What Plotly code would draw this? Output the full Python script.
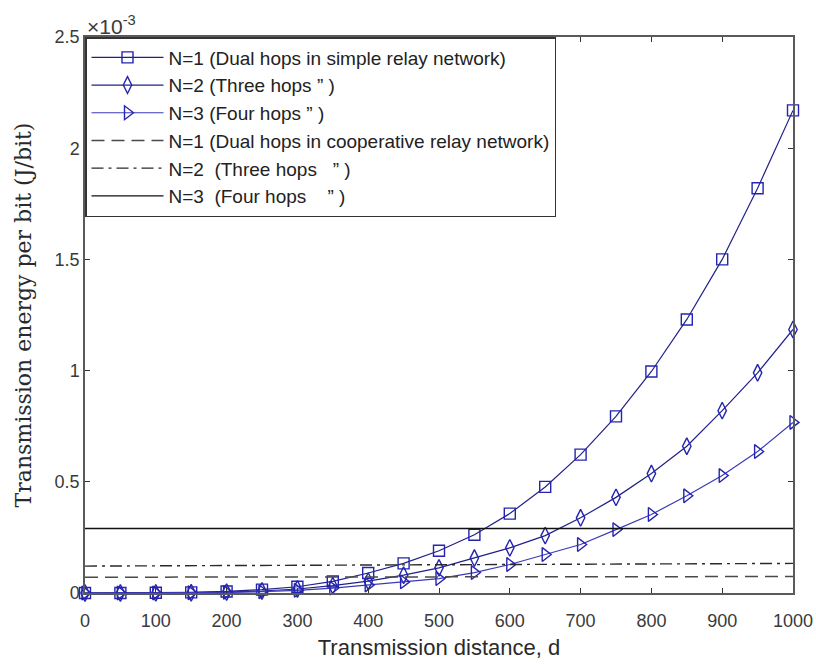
import plotly.graph_objects as go

# ---------------- data (energy in units of 1e-3 J/bit) ----------------
distance = [0, 50, 100, 150, 200, 250, 300, 350, 400, 450, 500,
            550, 600, 650, 700, 750, 800, 850, 900, 950, 1000]

simple_n1 = [0, 0.0001, 0.001, 0.003, 0.007, 0.015, 0.028, 0.052, 0.090, 0.133, 0.190,
             0.262, 0.357, 0.477, 0.622, 0.794, 0.996, 1.230, 1.500, 1.820, 2.170]
simple_n2 = [0, 0.0001, 0.0005, 0.0015, 0.004, 0.009, 0.018, 0.033, 0.053, 0.080, 0.113,
             0.157, 0.203, 0.258, 0.338, 0.430, 0.537, 0.660, 0.820, 0.990, 1.185]
simple_n3 = [0, 0.0001, 0.0004, 0.001, 0.003, 0.006, 0.012, 0.022, 0.036, 0.050, 0.065,
             0.092, 0.128, 0.173, 0.218, 0.285, 0.353, 0.437, 0.528, 0.636, 0.767]

coop_distance = [0, 1000]
coop_n1 = [0.071, 0.074]
coop_n2 = [0.121, 0.133]
coop_n3 = [0.290, 0.290]

x_ticks = [0, 100, 200, 300, 400, 500, 600, 700, 800, 900, 1000]
y_ticks = [0, 0.5, 1, 1.5, 2, 2.5]
y_tick_text = ["0", "0.5", "1", "1.5", "2", "2.5"]

NB = "\u00a0"
names = [
    "N=1 (Dual hops in simple relay network)",
    "N=2 (Three hops \u201d )",
    "N=3 (Four hops \u201d" + NB + ")",
    "N=1 (Dual hops in cooperative relay network)",
    "N=2" + NB + NB + "(Three hops" + NB * 3 + "\u201d" + NB + ")",
    "N=3" + NB + NB + "(Four hops" + NB * 4 + "\u201d" + NB + ")",
]

fig = go.Figure()

line_navy = "#20208a"
line_blue = "#3a3ab8"
marker_col = "#2424b0"

fig.add_trace(go.Scatter(
    x=distance, y=simple_n1, name=names[0], legendgroup="a",
    mode="lines+markers", cliponaxis=False,
    line=dict(color=line_navy, width=1.2),
    marker=dict(symbol="square-open", size=11, color=marker_col, line=dict(width=1.4, color=marker_col)),
))
fig.add_trace(go.Scatter(
    x=distance, y=simple_n2, name=names[1], legendgroup="b",
    mode="lines+markers", cliponaxis=False,
    line=dict(color=line_navy, width=1.2),
    marker=dict(symbol="diamond-tall-open", size=12, color=marker_col, line=dict(width=1.4, color=marker_col)),
))
fig.add_trace(go.Scatter(
    x=distance, y=simple_n3, name=names[2], legendgroup="c",
    mode="lines+markers", cliponaxis=False,
    line=dict(color=line_blue, width=1.2),
    marker=dict(symbol="triangle-right-open", size=12, color=marker_col, line=dict(width=1.4, color=marker_col)),
))
fig.add_trace(go.Scatter(
    x=coop_distance, y=coop_n1, name=names[3], legendgroup="d",
    mode="lines", line=dict(color="#4a4a4a", width=1.5, dash="13px,7px"),
))
fig.add_trace(go.Scatter(
    x=coop_distance, y=coop_n2, name=names[4], legendgroup="e",
    mode="lines", line=dict(color="#2a2a2a", width=1.4, dash="12px,5px,3px,5px"),
))
fig.add_trace(go.Scatter(
    x=coop_distance, y=coop_n3, name=names[5], legendgroup="f",
    mode="lines", line=dict(color="#111111", width=1.3),
))

axis_common = dict(
    showline=True, linecolor="#5a5a5a", linewidth=1.5, mirror="ticks",
    ticks="inside", ticklen=5, tickcolor="#333333", tickwidth=1,
    showgrid=False, zeroline=False, automargin=False,
    tickfont=dict(family="Liberation Sans, Arial, sans-serif", size=18, color="#3a3a3a"),
)

fig.update_layout(
    width=816, height=665,
    margin=dict(l=85, r=23, t=37, b=72),
    paper_bgcolor="white", plot_bgcolor="white",
    xaxis=dict(
        range=[0, 1000], tickvals=x_ticks, ticklabelstandoff=11,
        title=dict(text="Transmission distance, d",
                   font=dict(family="Liberation Sans, Arial, sans-serif", size=22, color="#2a2a2a"),
                   standoff=9),
        **axis_common,
    ),
    yaxis=dict(
        range=[0, 2.5], tickvals=y_ticks, ticktext=y_tick_text,
        title=dict(text="Transmission energy per bit (J/bit)",
                   font=dict(family="DejaVu Serif, serif", size=22, color="#2a2a2a"),
                   standoff=17),
        **axis_common,
    ),
    legend=dict(
        x=0, y=1, xanchor="left", yanchor="top",
        bgcolor="white", bordercolor="#333333", borderwidth=1.5,
        font=dict(family="Liberation Sans, Arial, sans-serif", size=19, color="#222222"),
        traceorder="grouped", tracegroupgap=0, itemwidth=72,
    ),
    showlegend=True,
)

fig.add_annotation(
    xref="paper", yref="paper", x=0, y=1, xanchor="left", yanchor="bottom",
    text="\u00d710<sup>-3</sup>", showarrow=False, yshift=-3,
    font=dict(family="Liberation Sans, Arial, sans-serif", size=21, color="#3a3a3a"),
)

fig.write_html("out.html")
